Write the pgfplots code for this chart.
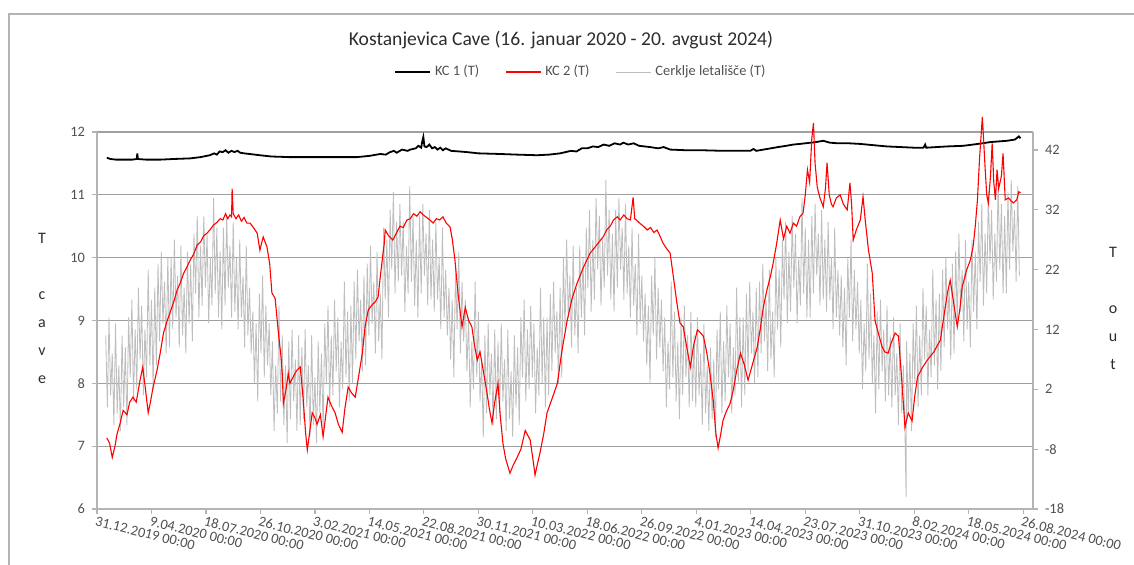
\documentclass[border=0pt]{standalone}
\usepackage{pgfplots}
\pgfplotsset{compat=1.18}
\usepackage{fontspec}
\setmainfont{Carlito}
\definecolor{tickgray}{RGB}{80,80,80}
\definecolor{gridgray}{RGB}{160,160,160}
\definecolor{axgray}{RGB}{180,180,180}
\definecolor{outgray}{RGB}{190,190,190}
\definecolor{titlegray}{RGB}{45,45,45}
\pgfplotsset{
  base/.style={
    at={(48.5pt,28pt)}, anchor=south west, scale only axis,
    width=468pt, height=188.5pt, xmin=0, xmax=1718,
    tick align=outside, major tick length=2.5pt,
    tick style={axgray, line width=0.6pt},
    axis line style={axgray, line width=0.7pt},
    ticklabel style={font=\fontsize{7.2}{8}\selectfont, text=tickgray},
    /pgf/number format/assume math mode=true,
  }
}
\begin{document}
\begin{tikzpicture}
\useasboundingbox (0pt,0pt) rectangle (567pt,282.5pt);
\draw[axgray, line width=1pt] (4.5pt,0pt) -- (4.5pt,275.5pt) -- (567pt,275.5pt);
% primary axis: grid, x axis, left y axis
\begin{axis}[base,
  ymin=6, ymax=12, ytick={6,7,...,12},
  ymajorgrids, grid style={gridgray, line width=0.6pt},
  axis x line*=bottom, axis y line*=left,
  xtick={0,100,...,1700},
  xticklabels={31.12.2019 00:00, 9.04.2020 00:00, 18.07.2020 00:00, 26.10.2020 00:00, 3.02.2021 00:00, 14.05.2021 00:00, 22.08.2021 00:00, 30.11.2021 00:00, 10.03.2022 00:00, 18.06.2022 00:00, 26.09.2022 00:00, 4.01.2023 00:00, 14.04.2023 00:00, 23.07.2023 00:00, 31.10.2023 00:00, 8.02.2024 00:00, 18.05.2024 00:00, 26.08.2024 00:00},
  xticklabel style={rotate=-14, anchor=north west, inner sep=1pt, xshift=-1pt},
]
\addplot[draw=none] coordinates {(0,6) (1718,12)};
\end{axis}
% secondary axis: outdoor temperature
\begin{axis}[base,
  ymin=-18, ymax=45, ytick={-18,-8,...,42},
  axis y line*=right, axis x line=none,
]
\addplot[outgray, line width=0.42pt] coordinates {
(16,11) (19,-1) (22,14) (25,1) (28,8) (31,-4) (34,13) (37,-2) (40,6) (43,-5)
(46,11) (49,-1) (52,9) (55,-4) (58,14) (61,4) (64,17) (67,0) (70,12) (73,2)
(76,19) (79,7) (82,16) (85,1) (88,12) (91,4) (94,22) (97,6) (100,17) (103,2)
(106,19) (109,6) (112,23) (115,10) (118,25) (121,13) (124,20) (127,8) (130,24) (133,9)
(136,24) (139,12) (142,27) (145,14) (148,21) (151,9) (154,26) (157,11) (160,19) (163,8)
(166,25) (169,13) (172,23) (175,10) (178,28) (181,18) (184,31) (187,14) (190,26) (193,16)
(196,31) (199,19) (202,28) (205,13) (208,24) (211,16) (214,34) (217,18) (220,29) (223,14)
(226,25) (229,12) (232,29) (235,16) (238,31) (241,19) (244,26) (247,14) (250,30) (253,15)
(256,24) (259,12) (262,27) (265,14) (268,21) (271,9) (274,26) (277,11) (280,19) (283,8)
(286,15) (289,3) (292,13) (295,0) (298,18) (301,8) (304,21) (307,4) (310,16) (313,6)
(316,13) (319,1) (322,10) (325,-5) (328,6) (331,-2) (334,16) (337,0) (340,11) (343,-4)
(346,6) (349,-7) (352,10) (355,-3) (358,12) (361,0) (364,7) (367,-5) (370,11) (373,-4)
(376,9) (379,-3) (382,12) (385,-1) (388,6) (391,-6) (394,11) (397,-4) (400,4) (403,-7)
(406,10) (409,-2) (412,8) (415,-5) (418,13) (421,3) (424,16) (427,-1) (430,11) (433,1)
(436,17) (439,5) (442,14) (445,-1) (448,10) (451,2) (454,20) (457,4) (460,15) (463,0)
(466,16) (469,3) (472,20) (475,7) (478,22) (481,10) (484,17) (487,5) (490,21) (493,6)
(496,23) (499,11) (502,26) (505,13) (508,20) (511,8) (514,25) (517,10) (520,18) (523,7)
(526,29) (529,17) (532,27) (535,14) (538,32) (541,22) (544,35) (547,18) (550,30) (553,20)
(556,33) (559,21) (562,30) (565,15) (568,26) (571,18) (574,36) (577,20) (580,31) (583,16)
(586,27) (589,14) (592,31) (595,18) (598,33) (601,21) (604,28) (607,16) (610,32) (613,17)
(616,27) (619,15) (622,30) (625,17) (628,24) (631,12) (634,29) (637,14) (640,22) (643,11)
(646,19) (649,7) (652,17) (655,4) (658,22) (661,12) (664,25) (667,8) (670,20) (673,10)
(676,17) (679,5) (682,14) (685,-1) (688,10) (691,2) (694,20) (697,4) (700,15) (703,0)
(706,7) (709,-6) (712,11) (715,-2) (718,13) (721,1) (724,8) (727,-4) (730,12) (733,-3)
(736,10) (739,-2) (742,13) (745,0) (748,7) (751,-5) (754,12) (757,-3) (760,5) (763,-6)
(766,11) (769,-1) (772,9) (775,-4) (778,14) (781,4) (784,17) (787,0) (790,12) (793,2)
(796,16) (799,4) (802,13) (805,-2) (808,9) (811,1) (814,19) (817,3) (820,14) (823,-1)
(826,14) (829,1) (832,18) (835,5) (838,20) (841,8) (844,15) (847,3) (850,19) (853,4)
(856,24) (859,12) (862,27) (865,14) (868,21) (871,9) (874,26) (877,11) (880,19) (883,8)
(886,26) (889,14) (892,24) (895,11) (898,29) (901,19) (904,32) (907,15) (910,27) (913,17)
(916,34) (919,22) (922,31) (925,16) (928,27) (931,19) (934,37) (937,21) (940,32) (943,17)
(946,28) (949,15) (952,32) (955,19) (958,34) (961,22) (964,29) (967,17) (970,33) (973,18)
(976,26) (979,14) (982,29) (985,16) (988,23) (991,11) (994,28) (997,13) (1000,21) (1003,10)
(1006,18) (1009,6) (1012,16) (1015,3) (1018,21) (1021,11) (1024,24) (1027,7) (1030,19) (1033,9)
(1036,17) (1039,5) (1042,14) (1045,-1) (1048,10) (1051,2) (1054,20) (1057,4) (1060,15) (1063,0)
(1066,10) (1069,-3) (1072,14) (1075,1) (1078,16) (1081,4) (1084,11) (1087,-1) (1090,15) (1093,0)
(1096,11) (1099,-1) (1102,14) (1105,1) (1108,8) (1111,-4) (1114,13) (1117,-2) (1120,6) (1123,-5)
(1126,9) (1129,-3) (1132,7) (1135,-6) (1138,12) (1141,2) (1144,15) (1147,-2) (1150,10) (1153,0)
(1156,16) (1159,4) (1162,13) (1165,-2) (1168,9) (1171,1) (1174,19) (1177,3) (1180,14) (1183,-1)
(1186,14) (1189,1) (1192,18) (1195,5) (1198,20) (1201,8) (1204,15) (1207,3) (1210,19) (1213,4)
(1216,20) (1219,8) (1222,23) (1225,10) (1228,17) (1231,5) (1234,22) (1237,7) (1240,15) (1243,4)
(1246,24) (1249,12) (1252,22) (1255,9) (1258,27) (1261,17) (1264,30) (1267,13) (1270,25) (1273,15)
(1276,31) (1279,19) (1282,28) (1285,13) (1288,24) (1291,16) (1294,34) (1297,18) (1300,29) (1303,14)
(1306,27) (1309,14) (1312,31) (1315,18) (1318,33) (1321,21) (1324,28) (1327,16) (1330,32) (1333,17)
(1336,27) (1339,15) (1342,30) (1345,17) (1348,24) (1351,12) (1354,29) (1357,14) (1360,22) (1363,11)
(1366,21) (1369,9) (1372,19) (1375,6) (1378,24) (1381,14) (1384,27) (1387,10) (1390,22) (1393,12)
(1396,20) (1399,8) (1402,17) (1405,2) (1408,13) (1411,5) (1414,23) (1417,7) (1420,18) (1423,3)
(1426,11) (1429,-2) (1432,15) (1435,2) (1438,17) (1441,5) (1444,12) (1447,0) (1450,16) (1453,1)
(1456,11) (1459,-1) (1462,14) (1465,1) (1468,8) (1471,-4) (1474,13) (1477,-2) (1480,6) (1483,-5) (1485,-16)
(1486,10) (1489,-2) (1492,8) (1495,-5) (1498,13) (1501,3) (1504,16) (1507,-1) (1510,11) (1513,1)
(1516,19) (1519,7) (1522,16) (1525,1) (1528,12) (1531,4) (1534,22) (1537,6) (1540,17) (1543,2)
(1546,18) (1549,5) (1552,22) (1555,9) (1558,24) (1561,12) (1564,19) (1567,7) (1570,23) (1573,8)
(1576,25) (1579,13) (1582,28) (1585,15) (1588,22) (1591,10) (1594,27) (1597,12) (1600,20) (1603,9)
(1606,27) (1609,15) (1612,25) (1615,12) (1618,30) (1621,20) (1624,33) (1627,16) (1630,28) (1633,18)
(1636,35) (1639,23) (1642,32) (1645,17) (1648,28) (1651,20) (1654,37) (1657,22) (1660,33) (1663,18)
(1666,31) (1669,18) (1672,35) (1675,22) (1678,37) (1681,25) (1684,32) (1687,20) (1690,36) (1693,21)
};
\end{axis}
% cave temperatures on primary scale
\begin{axis}[base,
  ymin=6, ymax=12, hide axis, clip=false,
  legend columns=3,
  legend style={at={(0.518,1.159)}, anchor=center, draw=none, fill=none,
    font=\fontsize{7.2}{8}\selectfont, text=tickgray,
    /tikz/every even column/.append style={column sep=11pt}},
  legend image code/.code={\draw[#1] (0pt,0pt) -- (17.5pt,0pt);},
]
\addplot[black, line width=0.9pt] coordinates {
(18,11.59) (25,11.57) (35,11.56) (50,11.56) (65,11.56) (73,11.57) (74,11.66) (75,11.57) (90,11.56) (116,11.56) (140,11.57) (171,11.58) (190,11.6) (207,11.63) (215,11.66) (220,11.64) (225,11.69) (231,11.68) (236,11.71) (241,11.67) (247,11.7) (252,11.68) (258,11.7) (263,11.67) (270,11.66) (280,11.65) (299,11.63) (320,11.61) (354,11.6) (400,11.6) (440,11.6) (477,11.6) (500,11.62) (520,11.65) (530,11.64) (538,11.68) (545,11.7) (550,11.67) (560,11.72) (570,11.7) (575,11.72) (585,11.74) (590,11.78) (595,11.75) (597,11.85) (599,11.92) (601,11.77) (605,11.76) (610,11.8) (615,11.74) (620,11.76) (625,11.72) (630,11.75) (635,11.71) (640,11.74) (650,11.7) (665,11.69) (679,11.68) (700,11.66) (740,11.65) (770,11.64) (808,11.63) (830,11.64) (850,11.66) (870,11.7) (880,11.69) (890,11.74) (900,11.74) (910,11.77) (920,11.76) (930,11.8) (940,11.78) (950,11.82) (960,11.8) (966,11.83) (975,11.8) (985,11.82) (995,11.78) (1015,11.76) (1030,11.74) (1040,11.76) (1052,11.72) (1080,11.71) (1107,11.71) (1150,11.7) (1199,11.7) (1205,11.73) (1210,11.7) (1230,11.73) (1250,11.76) (1265,11.78) (1278,11.8) (1290,11.81) (1300,11.82) (1310,11.83) (1320,11.84) (1333,11.86) (1345,11.83) (1360,11.82) (1380,11.82) (1401,11.81) (1425,11.79) (1450,11.77) (1475,11.76) (1500,11.75) (1517,11.75) (1520,11.8) (1522,11.75) (1560,11.77) (1590,11.78) (1608,11.8) (1625,11.82) (1640,11.84) (1655,11.85) (1670,11.86) (1685,11.88) (1692,11.93) (1695,11.9)
};
\addlegendentry{KC 1 (T)}
\addplot[red, line width=0.55pt] coordinates {
(18,7.13) (23,7.05) (28,6.82) (33,7.0) (37,7.2) (42,7.35) (48,7.57) (55,7.5) (60,7.7) (66,7.78) (72,7.7) (79,8.05) (84,8.26) (89,7.9) (94,7.53) (98,7.7) (103,7.94) (110,8.2) (116,8.48) (122,8.8) (129,9.0) (135,9.15) (141,9.3) (147,9.48) (153,9.6) (159,9.75) (165,9.85) (171,9.96) (177,10.05) (184,10.2) (190,10.25) (196,10.35) (202,10.39) (208,10.45) (214,10.52) (220,10.56) (226,10.62) (231,10.6) (236,10.7) (240,10.62) (244,10.68) (247,10.65) (248,11.1) (250,10.7) (255,10.62) (260,10.68) (265,10.58) (270,10.64) (275,10.55) (281,10.55) (287,10.48) (294,10.39) (299,10.12) (305,10.33) (312,10.17) (317,9.9) (321,9.44) (327,9.35) (333,8.8) (338,8.4) (340,8.16) (342,7.68) (347,7.9) (351,8.16) (354,8.0) (360,8.1) (366,8.2) (373,8.26) (378,7.8) (383,7.2) (386,6.94) (390,7.2) (395,7.53) (400,7.45) (404,7.35) (410,7.5) (415,7.15) (420,7.5) (424,7.78) (430,7.65) (437,7.53) (443,7.35) (450,7.22) (455,7.6) (461,7.94) (467,7.85) (474,7.78) (480,8.1) (487,8.48) (492,8.9) (498,9.17) (505,9.25) (511,9.3) (516,9.38) (520,9.7) (525,10.07) (527,10.2) (529,10.44) (535,10.35) (543,10.28) (550,10.4) (556,10.5) (562,10.48) (569,10.6) (575,10.62) (581,10.7) (587,10.66) (593,10.73) (599,10.68) (605,10.64) (611,10.6) (617,10.55) (623,10.62) (629,10.6) (635,10.65) (641,10.55) (648,10.49) (652,10.3) (657,9.96) (663,9.4) (670,8.9) (676,9.21) (682,9.0) (688,8.9) (693,8.6) (698,8.37) (703,8.5) (709,8.2) (716,7.84) (720,7.6) (725,7.37) (730,7.7) (736,8.0) (740,7.5) (745,7.05) (750,6.8) (758,6.57) (764,6.7) (771,6.82) (778,6.95) (786,7.25) (795,7.1) (800,6.8) (804,6.54) (808,6.7) (813,6.89) (820,7.2) (826,7.53) (835,7.75) (845,8.0) (853,8.5) (863,9.0) (872,9.35) (881,9.59) (893,9.85) (905,10.07) (917,10.2) (929,10.33) (936,10.45) (942,10.5) (948,10.6) (955,10.65) (960,10.6) (967,10.68) (973,10.62) (979,10.6) (984,10.96) (987,10.62) (990,10.6) (996,10.55) (1003,10.5) (1010,10.44) (1016,10.48) (1022,10.4) (1028,10.44) (1033,10.35) (1039,10.23) (1045,10.15) (1052,10.07) (1058,9.69) (1064,9.3) (1070,8.96) (1076,8.9) (1082,8.6) (1089,8.26) (1095,8.6) (1102,8.85) (1108,8.8) (1113,8.75) (1119,8.5) (1125,8.16) (1131,7.73) (1136,7.2) (1140,6.97) (1145,7.2) (1149,7.41) (1155,7.55) (1162,7.68) (1168,7.9) (1174,8.2) (1181,8.48) (1188,8.3) (1195,8.05) (1203,8.3) (1212,8.58) (1218,8.9) (1223,9.21) (1230,9.5) (1236,9.7) (1241,9.91) (1247,10.2) (1254,10.6) (1260,10.3) (1266,10.5) (1272,10.39) (1278,10.55) (1284,10.5) (1290,10.65) (1296,10.71) (1300,11.0) (1304,11.4) (1308,11.2) (1312,11.9) (1315,12.14) (1318,11.5) (1322,11.12) (1327,10.95) (1333,10.81) (1337,11.1) (1340,11.51) (1344,11.0) (1348,10.85) (1351,10.81) (1357,10.95) (1364,11.0) (1370,10.85) (1377,10.76) (1382,11.19) (1385,10.85) (1388,10.28) (1394,10.45) (1401,10.6) (1406,10.97) (1410,10.6) (1416,10.12) (1423,9.75) (1428,9.0) (1434,8.8) (1441,8.58) (1446,8.5) (1452,8.48) (1458,8.65) (1465,8.8) (1471,8.75) (1478,7.94) (1483,7.3) (1489,7.53) (1496,7.4) (1501,7.8) (1506,8.1) (1515,8.25) (1524,8.37) (1536,8.5) (1548,8.69) (1555,9.1) (1561,9.44) (1566,9.64) (1572,9.3) (1579,8.9) (1584,9.2) (1588,9.53) (1596,9.8) (1603,9.96) (1608,10.17) (1612,10.5) (1616,10.92) (1620,11.6) (1625,12.24) (1630,11.44) (1633,11.0) (1636,10.87) (1640,11.3) (1643,11.82) (1646,11.2) (1649,10.92) (1652,11.4) (1655,11.1) (1660,11.3) (1663,11.66) (1667,10.92) (1673,10.95) (1678,10.9) (1682,10.87) (1688,10.92) (1692,11.05) (1695,11.03)
};
\addlegendentry{KC 2 (T)}
\addlegendimage{outgray, line width=0.5pt}
\addlegendentry{Cerklje letališče (T)}
\end{axis}
\node[font=\fontsize{9.8}{11}\selectfont, text=titlegray] at (280.5pt,262.5pt) {Kostanjevica Cave (16. januar 2020 - 20. avgust 2024)};
\node[align=center, font=\fontsize{8}{14}\selectfont, text=titlegray] at (21pt,128.5pt) {T\\[14pt]c\\a\\v\\e};
\node[align=center, font=\fontsize{8}{14}\selectfont, text=titlegray] at (556.5pt,128.5pt) {T\\[14pt]o\\u\\t};
\end{tikzpicture}
\end{document}
